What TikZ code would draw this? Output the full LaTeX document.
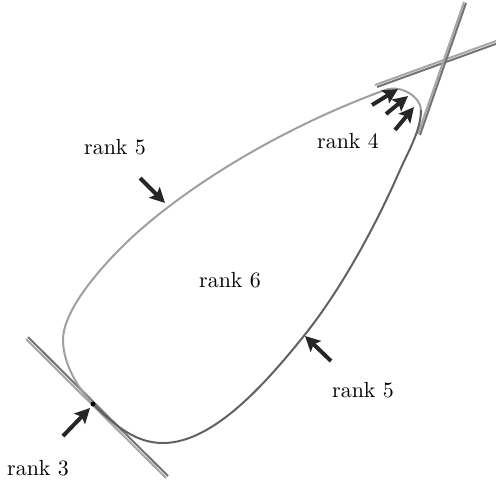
\documentclass[11pt,tikz,border=0pt]{standalone}
\usepackage{amsmath,amssymb}
\usetikzlibrary{arrows.meta}

\begin{document}
\begin{tikzpicture}[x=0.5pt, y=-0.5pt,
	curvelight/.style={gray!75, line width=1pt},
	curvedark/.style={black!62, line width=1pt},
	strandA/.style={gray!70, line width=1pt},
	strandB/.style={black!55, line width=1pt},
	pointer/.style={black!85, line width=2pt, -{Stealth[length=7.5pt, width=7.5pt, inset=1.5pt]}},
	lbl/.style={inner sep=0pt}]
	\useasboundingbox (0,0) rectangle (496,484);
	% tangent lines (pairs of strands)
	\draw[strandA] (26,339) -- (166,478);
	\draw[strandB] (28,337) -- (168,476);
	\draw[strandA] (375,85) -- (496,41);
	\draw[strandB] (377,87) -- (497,43.5);
	\draw[strandA] (418,134) -- (464,2);
	\draw[strandB] (420,135) -- (466,3);
	% the curve
	\coordinate (tan) at (93,404);
	\coordinate (left) at (63,340);
	\coordinate (upl) at (140,230);
	\coordinate (top) at (385,90);
	\coordinate (tip) at (421,110);
	\coordinate (rgt) at (400,170);
	\coordinate (mid) at (303,337);
	\coordinate (bot) at (163,443);
	\draw[curvelight] (tan) .. controls (80,391) and (63,365) .. (left)
		.. controls (63,305) and (114,253) .. (upl)
		.. controls (208,171) and (300,121) .. (top)
		.. controls (402,84) and (421,98) .. (tip);
	\draw[curvedark] (tip) .. controls (421,130) and (408,152) .. (rgt)
		.. controls (376,225) and (341,290) .. (mid)
		.. controls (265,384) and (213,443) .. (bot)
		.. controls (138,443) and (118,429) .. (tan);
	\fill[black] (tan) circle (2.5);
	% labels
	\node[lbl] (rankfiveup) at (115,147) {rank 5};
	\node[lbl] (rankfour) at (348,141) {rank 4};
	\node[lbl] (ranksix) at (230,280) {rank 6};
	\node[lbl] (rankfivelow) at (363,390) {rank 5};
	\node[lbl] (rankthree) at (38,468) {rank 3};
	% pointers
	\coordinate (upT) at (140,178); \coordinate (upH) at (165,203);
	\coordinate (aT) at (372,105); \coordinate (aH) at (398,89);
	\coordinate (bT) at (386,114); \coordinate (bH) at (408,96);
	\coordinate (cT) at (395,130); \coordinate (cH) at (414,107);
	\coordinate (lowT) at (331,361); \coordinate (lowH) at (305,336);
	\coordinate (thrT) at (63,436); \coordinate (thrH) at (90,408);
	\draw[pointer] (upT) -- (upH);
	\draw[pointer] (aT) -- (aH);
	\draw[pointer] (bT) -- (bH);
	\draw[pointer] (cT) -- (cH);
	\draw[pointer] (lowT) -- (lowH);
	\draw[pointer] (thrT) -- (thrH);
\end{tikzpicture}
\end{document}
